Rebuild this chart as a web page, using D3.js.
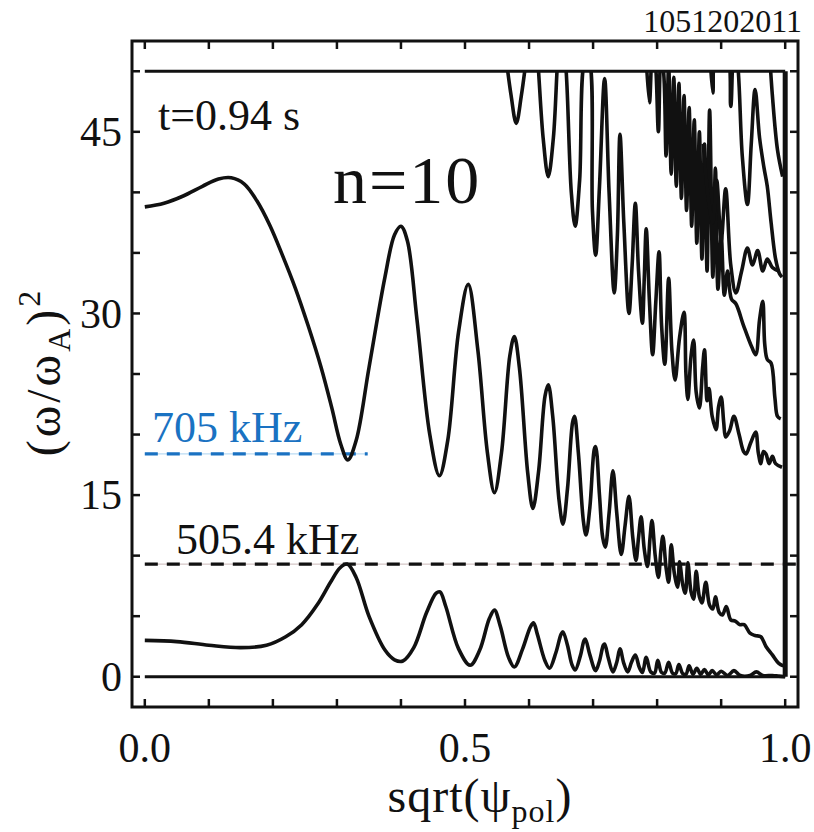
<!DOCTYPE html>
<html>
<head>
<meta charset="utf-8">
<script src="https://cdn.jsdelivr.net/npm/d3@7"></script>
<style>
  body { margin: 0; background: #fff; }
  text { font-family: "Liberation Serif", "Times New Roman", serif; fill: #111; }
</style>
</head>
<body>
<div id="chart"></div>
<script>
// lower continuum branch
var lowerBranch = [
  [0.0, 3.0], [0.05, 2.9], [0.1, 2.6], [0.15, 2.4], [0.19, 2.6], [0.22, 3.3], [0.245, 4.3],
  [0.27, 6.0], [0.29, 7.8], [0.305, 9.0], [0.316, 9.3], [0.33, 8.2], [0.35, 5.0], [0.375, 2.2],
  [0.39, 1.4], [0.403, 1.3], [0.42, 2.4], [0.44, 5.3], [0.455, 6.9], [0.461, 7.0], [0.47, 5.8],
  [0.49, 2.3], [0.508, 0.95], [0.523, 2.2], [0.538, 4.8], [0.546, 5.5], [0.555, 4.2], [0.568, 1.6],
  [0.577, 0.8], [0.59, 2.3], [0.602, 4.1], [0.607, 4.45], [0.613, 3.5], [0.625, 1.3], [0.632, 0.7],
  [0.642, 2.0], [0.65, 3.5], [0.653, 3.7], [0.66, 2.6], [0.667, 1.0], [0.672, 0.55], [0.68, 1.7],
  [0.686, 3.0], [0.688, 3.1], [0.695, 1.8], [0.704, 0.5], [0.71, 1.3], [0.716, 2.6], [0.718, 2.7],
  [0.724, 1.5], [0.731, 0.4], [0.737, 1.2], [0.742, 2.3], [0.748, 1.1], [0.754, 0.4], [0.76, 1.2],
  [0.766, 1.8], [0.772, 0.8], [0.777, 0.35], [0.783, 1.6], [0.79, 0.4], [0.796, 0.3], [0.801, 1.35],
  [0.807, 0.35], [0.812, 0.3], [0.818, 1.2], [0.824, 0.3], [0.829, 0.25], [0.834, 1.0], [0.84, 0.25],
  [0.845, 0.2], [0.85, 0.9], [0.856, 0.2], [0.862, 0.7], [0.868, 0.2], [0.874, 0.6], [0.88, 0.15],
  [0.886, 0.5], [0.893, 0.15], [0.9, 0.45], [0.91, 0.1], [0.92, 0.5], [0.93, 0.1], [0.945, 0.1],
  [0.955, 0.4], [0.965, 0.1], [0.98, 0.1], [0.99, 0.05], [1.0, 0.0]
];

// second branch (upper edge of the first gap)
var middleBranch = [
  [0.0, 38.8], [0.03, 39.1], [0.06, 39.7], [0.09, 40.5], [0.115, 41.1], [0.135, 41.2], [0.155, 40.7],
  [0.175, 39.3], [0.195, 37.3], [0.215, 34.8], [0.235, 32.1], [0.255, 29.0], [0.275, 25.6], [0.292, 22.2],
  [0.306, 19.2], [0.317, 17.9], [0.33, 19.5],
  [0.35, 25.5], [0.375, 33.0], [0.39, 36.5], [0.40, 37.2], [0.41, 36.0], [0.425, 29.5], [0.445, 20.0],
  [0.46, 16.6], [0.473, 19.5], [0.49, 28.5], [0.505, 32.4], [0.52, 27.0], [0.535, 18.5], [0.546, 15.2],
  [0.557, 18.5], [0.57, 26.5], [0.577, 28.1], [0.585, 25.5], [0.598, 16.8], [0.606, 13.9], [0.615, 17.0],
  [0.625, 23.2], [0.630, 24.1], [0.637, 21.5], [0.647, 14.5], [0.653, 12.6], [0.66, 15.5], [0.668, 21.0],
  [0.671, 21.5], [0.677, 18.5], [0.685, 12.8], [0.689, 11.7], [0.695, 14.0], [0.702, 18.8], [0.704, 19.0],
  [0.71, 15.0], [0.715, 11.5], [0.719, 10.7], [0.725, 13.5], [0.731, 17.0], [0.737, 13.5], [0.744, 10.1],
  [0.75, 12.5], [0.756, 14.9], [0.762, 11.5], [0.767, 9.6], [0.771, 11.5], [0.775, 13.2], [0.78, 10.5],
  [0.785, 9.1], [0.789, 11.5], [0.792, 12.9], [0.797, 10.0], [0.802, 8.2], [0.806, 10.5], [0.809, 11.6],
  [0.814, 9.0], [0.818, 7.8], [0.822, 10.9], [0.827, 8.5], [0.832, 7.4], [0.835, 9.5], [0.84, 7.6],
  [0.844, 6.9], [0.848, 9.4], [0.853, 7.0], [0.857, 6.4], [0.861, 8.7], [0.866, 6.6], [0.87, 6.1],
  [0.876, 7.8], [0.882, 5.9], [0.887, 5.6], [0.891, 6.6], [0.897, 5.3], [0.902, 5.1], [0.908, 5.8],
  [0.915, 4.7], [0.922, 4.6], [0.929, 4.3], [0.936, 4.3], [0.945, 3.6], [0.953, 3.4], [0.962, 3.3],
  [0.97, 2.5], [0.98, 1.8], [0.99, 1.1], [0.997, 0.9]
];

// third branch, enters from above at ~0.57
var upperBranch = [
  [0.562, 52], [0.572, 48.0], [0.580, 45.7], [0.588, 48.0], [0.598, 52], [0.605, 55], [0.612, 52],
  [0.622, 44.5], [0.630, 41.3], [0.638, 44.5], [0.646, 52], [0.651, 54], [0.658, 50], [0.666, 40.0],
  [0.672, 37.2], [0.679, 41], [0.688, 51], [0.693, 51], [0.699, 38.5], [0.704, 34.8], [0.71, 40.5],
  [0.718, 49.4], [0.725, 40.0], [0.733, 31.7], [0.738, 36.5], [0.742, 44.8], [0.748, 37.5], [0.756, 30.0],
  [0.761, 34.0], [0.766, 39.1], [0.771, 33.5], [0.777, 29.2], [0.78, 33.0], [0.783, 37.0], [0.788, 31.0],
  [0.793, 26.6], [0.798, 31.0], [0.803, 35.1], [0.807, 29.0], [0.812, 25.8], [0.818, 32.9], [0.823, 27.0],
  [0.828, 24.5], [0.835, 28.0], [0.842, 30.1], [0.845, 25.0], [0.848, 22.9], [0.853, 26.5], [0.857, 27.8],
  [0.861, 23.5], [0.866, 22.2], [0.871, 25.5], [0.874, 27.0], [0.878, 22.8], [0.881, 23.8], [0.886, 21.5],
  [0.892, 20.4], [0.896, 22.3], [0.9, 23.1], [0.904, 21.0], [0.907, 19.8], [0.913, 20.3], [0.92, 21.5],
  [0.928, 20.0], [0.935, 18.6], [0.939, 18.4], [0.946, 19.3], [0.954, 20.2], [0.958, 18.5], [0.962, 17.6],
  [0.966, 18.6], [0.97, 18.4], [0.975, 17.6], [0.98, 18.2], [0.985, 17.6], [0.995, 17.3]
];

// fourth branch, dense band from the top near 0.79
var fourthBranch = [
  [0.782, 52], [0.788, 47.4], [0.793, 52], [0.797, 51], [0.802, 45.0], [0.806, 51], [0.81, 50],
  [0.814, 43.0], [0.818, 50.5], [0.822, 41.5], [0.826, 49.5], [0.83, 40.5], [0.834, 49], [0.838, 39.5],
  [0.842, 48], [0.846, 38.5], [0.85, 47], [0.854, 37.2], [0.858, 46], [0.862, 35.8], [0.866, 45],
  [0.87, 34.5], [0.874, 44], [0.878, 33.5], [0.882, 46.8], [0.887, 33.0], [0.891, 42], [0.895, 32.0],
  [0.9, 36.5], [0.905, 31.5], [0.91, 33.5], [0.916, 31.2], [0.923, 30.8],
  [0.935, 29.0], [0.948, 27.2], [0.954, 26.6], [0.96, 29.5], [0.965, 31.0], [0.968, 27.5], [0.972, 26.2],
  [0.978, 25.9], [0.984, 23.0], [0.988, 21.5], [0.993, 21.3]
];

var fifthBranch = [
  [0.882, 52], [0.887, 48.2], [0.893, 52], [0.908, 52], [0.915, 47.1], [0.92, 52], [0.925, 51],
  [0.933, 43], [0.941, 39.0], [0.947, 44], [0.953, 48.5], [0.96, 44.5], [0.967, 42.0], [0.972, 40.5],
  [0.978, 37.5], [0.985, 34.5], [0.991, 33.3], [0.995, 33.0]
];

var sixthBranch = [
  [0.872, 44], [0.88, 39.5], [0.887, 37.5], [0.893, 41], [0.9, 36], [0.907, 40.3], [0.915, 34.0],
  [0.923, 31.7], [0.932, 33.5], [0.941, 35.4], [0.949, 34.0], [0.957, 35.2], [0.965, 33.5],
  [0.972, 34.5], [0.98, 33.8], [0.99, 33.5]
];

var seventhBranch = [[0.975, 52], [0.98, 48], [0.988, 43.5], [0.996, 41.3]];

var edgeWall = [[1.0, 0], [1.0, 50]];
var baseLine = [[0.0, 0], [1.0, 0]];
var topLine = [[0.0, 50], [1.0, 50]];

var freqLow = { label: "505.4 kHz", value: 9.3, xEnd: 1.02 };
var freqHigh = { label: "705 kHz", value: 18.4, xEnd: 0.348 };

var yTickValues = [0, 5, 10, 15, 20, 25, 30, 35, 40, 45, 50];
var yTickLabels = [0, 15, 30, 45];
var xTickValues = [0, 0.1, 0.2, 0.3, 0.4, 0.5, 0.6, 0.7, 0.8, 0.9, 1.0];
var xTickLabels = [0.0, 0.5, 1.0];

var w = 814, h = 832;
var pL = 132, pR = 798, pT = 41, pB = 707;

var svg = d3.select("#chart").append("svg")
  .attr("width", w)
  .attr("height", h);

var x = d3.scaleLinear().domain([-0.02, 1.02]).range([pL, pR]);
var y = d3.scaleLinear().domain([-2.5, 52.5]).range([pB, pT]);

svg.append("clipPath").attr("id", "plotclip")
  .append("rect")
  .attr("x", pL).attr("y", y(50))
  .attr("width", pR - pL).attr("height", pB - y(50));

var smooth = d3.line()
  .x(function(d) { return x(d[0]); })
  .y(function(d) { return y(d[1]); })
  .curve(d3.curveCatmullRom.alpha(0.5));

var straight = d3.line()
  .x(function(d) { return x(d[0]); })
  .y(function(d) { return y(d[1]); });

// reference frequency lines (thin pale line under the dashes)
function freqLine(f, color, pale) {
  var pts = [[0, f.value], [f.xEnd, f.value]];
  svg.append("path").attr("d", straight(pts))
    .attr("stroke", pale).attr("stroke-width", 1).attr("fill", "none");
  svg.append("path").attr("d", straight(pts))
    .attr("stroke", color).attr("stroke-width", 3.2)
    .attr("stroke-dasharray", "13,9").attr("fill", "none");
}
freqLine(freqLow, "#111", "#c9b8b8");
freqLine(freqHigh, "#1a72c2", "#a9d2f0");

var g = svg.append("g").attr("clip-path", "url(#plotclip)");
[lowerBranch, middleBranch, upperBranch, fourthBranch, fifthBranch, sixthBranch, seventhBranch]
  .forEach(function(branch) {
    g.append("path").attr("d", smooth(branch))
      .attr("stroke", "#111").attr("stroke-width", 3.6)
      .attr("stroke-linejoin", "round").attr("fill", "none");
  });

svg.append("path").attr("d", straight(edgeWall))
  .attr("stroke", "#111").attr("stroke-width", 5).attr("fill", "none");
svg.append("path").attr("d", straight(baseLine))
  .attr("stroke", "#111").attr("stroke-width", 3.2).attr("fill", "none");
svg.append("path").attr("d", straight(topLine))
  .attr("stroke", "#111").attr("stroke-width", 3.2).attr("fill", "none");

// frame with inward ticks on all four sides
svg.append("rect")
  .attr("x", pL).attr("y", pT)
  .attr("width", pR - pL).attr("height", pB - pT)
  .attr("fill", "none").attr("stroke", "#111").attr("stroke-width", 3);

var tl = 8;
svg.selectAll(".xtb").data(xTickValues).enter().append("line")
  .attr("x1", function(d) { return x(d); }).attr("x2", function(d) { return x(d); })
  .attr("y1", pB).attr("y2", pB - tl)
  .attr("stroke", "#111").attr("stroke-width", 2.5);
svg.selectAll(".xtt").data(xTickValues).enter().append("line")
  .attr("x1", function(d) { return x(d); }).attr("x2", function(d) { return x(d); })
  .attr("y1", pT).attr("y2", pT + tl)
  .attr("stroke", "#111").attr("stroke-width", 2.5);
svg.selectAll(".ytl").data(yTickValues).enter().append("line")
  .attr("y1", function(d) { return y(d); }).attr("y2", function(d) { return y(d); })
  .attr("x1", pL).attr("x2", pL + tl)
  .attr("stroke", "#111").attr("stroke-width", 2.5);
svg.selectAll(".ytr").data(yTickValues).enter().append("line")
  .attr("y1", function(d) { return y(d); }).attr("y2", function(d) { return y(d); })
  .attr("x1", pR).attr("x2", pR - tl)
  .attr("stroke", "#111").attr("stroke-width", 2.5);

svg.selectAll(".ylab").data(yTickLabels).enter().append("text")
  .attr("x", pL - 10).attr("y", function(d) { return y(d); })
  .attr("dy", "0.34em").attr("text-anchor", "end")
  .attr("font-size", 42).text(function(d) { return d; });

svg.selectAll(".xlab").data(xTickLabels).enter().append("text")
  .attr("x", function(d) { return x(d); }).attr("y", 762)
  .attr("text-anchor", "middle").attr("font-size", 42)
  .text(function(d) { return d.toFixed(1); });

// axis titles
var xt = svg.append("text").attr("x", 480).attr("y", 812)
  .attr("text-anchor", "middle").attr("font-size", 48).attr("letter-spacing", 1);
xt.append("tspan").text("sqrt(\u03c8");
xt.append("tspan").attr("font-size", 32).attr("dy", 10).text("pol");
xt.append("tspan").attr("dy", -10).text(")");

var yt = svg.append("text")
  .attr("transform", "translate(60,372) rotate(-90)")
  .attr("text-anchor", "middle").attr("font-size", 48).attr("letter-spacing", 3);
yt.append("tspan").text("(\u03c9/\u03c9");
yt.append("tspan").attr("font-size", 32).attr("dy", 10).text("A");
yt.append("tspan").attr("dy", -10).text(")");
yt.append("tspan").attr("font-size", 32).attr("dy", -20).text("2");

// annotations
svg.append("text").attr("x", 802).attr("y", 32).attr("text-anchor", "end")
  .attr("font-size", 32).text("1051202011");
svg.append("text").attr("x", 158).attr("y", 130).attr("font-size", 44).text("t=0.94 s");
svg.append("text").attr("x", 333).attr("y", 203).attr("font-size", 68)
  .attr("letter-spacing", 2).text("n=10");
svg.append("text").attr("x", 152).attr("y", 442).attr("font-size", 44)
  .style("fill", "#1a72c2").text(freqHigh.label);
svg.append("text").attr("x", 176).attr("y", 554).attr("font-size", 44).text(freqLow.label);
</script>
</body>
</html>
